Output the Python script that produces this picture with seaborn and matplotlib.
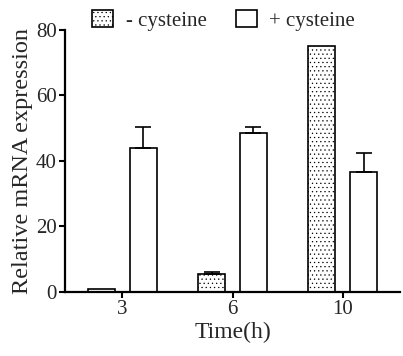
import matplotlib
matplotlib.use("Agg")
import matplotlib.pyplot as plt
import seaborn as sns
import pandas as pd
from matplotlib.patches import Patch

# values
times = ["3", "6", "10"]
minus_cys = [0.8, 5.4, 75.0]
minus_err = [0.0, 0.6, 0.0]
plus_cys = [44.0, 48.5, 36.5]
plus_err = [6.3, 2.0, 6.0]
conditions = ["- cysteine", "+ cysteine"]

sns.set_style("ticks")
plt.rcParams['font.family'] = ['Liberation Serif', 'DejaVu Serif']
plt.rcParams['hatch.linewidth'] = 0.4

df = pd.DataFrame({
    "Time": times * 2,
    "value": minus_cys + plus_cys,
    "err": minus_err + plus_err,
    "cond": [conditions[0]] * 3 + [conditions[1]] * 3,
})

fig = plt.figure(figsize=(4.03, 3.56), dpi=100)
ax = fig.add_axes([0.161, 0.180, 0.832, 0.736])

sns.barplot(data=df, x="Time", y="value", hue="cond", order=times,
            hue_order=conditions, errorbar=None, width=0.76, gap=0.35,
            palette=["white", "white"], edgecolor="black", linewidth=1.2,
            legend=False, ax=ax)

# hatch the "- cysteine" bars with dots, draw one-sided error bars
for i, bar in enumerate(ax.patches[:6]):
    cond = conditions[i // 3]
    row = df[df["cond"] == cond].iloc[i % 3]
    if cond == conditions[0]:
        bar.set_hatch("....")
    if row["err"] > 0:
        xc = bar.get_x() + bar.get_width() / 2
        ax.errorbar(xc, row["value"], yerr=[[0], [row["err"]]], fmt="none",
                    ecolor="black", elinewidth=1.2, capsize=6, capthick=1.2)

ax.set_ylim(0, 80)
ax.set_yticks([0, 20, 40, 60, 80])
ax.set_xlim(-0.52, 2.52)
ax.set_xlabel("Time(h)", fontsize=17, labelpad=2)
ax.set_ylabel("Relative mRNA expression", fontsize=17.5, labelpad=2)
ax.tick_params(labelsize=15, width=1.5, length=4, color="black", pad=2)
for s in ["left", "bottom"]:
    ax.spines[s].set_linewidth(1.6)
    ax.spines[s].set_color("black")
sns.despine(ax=ax)

handles = [Patch(facecolor="white", edgecolor="black", hatch="....", linewidth=1.2),
           Patch(facecolor="white", edgecolor="black", linewidth=1.2)]
fig.legend(handles, conditions, loc="upper center", bbox_to_anchor=(0.555, 1.025),
           ncol=2, frameon=False, fontsize=15, handlelength=1.0, handleheight=0.9,
           columnspacing=1.4, handletextpad=0.6)

fig.savefig("out.png", dpi=100)
